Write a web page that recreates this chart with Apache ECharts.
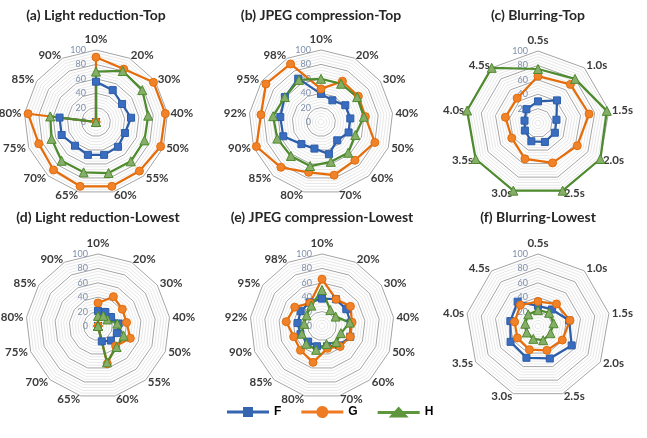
<!DOCTYPE html>
<html><head><meta charset="utf-8">
<script src="https://cdn.jsdelivr.net/npm/echarts@6/dist/echarts.min.js"></script>
<style>html,body{margin:0;padding:0;background:#fff}#c{width:647px;height:438px}</style>
</head><body><div id="c"></div><script>
// ---- categories (clockwise from top) ----
const LR_AXES   = ['10%','20%','30%','40%','50%','55%','60%','65%','70%','75%','80%','85%','90%'];
const JPEG_AXES = ['10%','20%','30%','40%','50%','60%','70%','80%','85%','90%','92%','95%','98%'];
const BLUR_AXES = ['0.5s','1.0s','1.5s','2.0s','2.5s','3.0s','3.5s','4.0s','4.5s'];
const SERIES_NAMES = ['F','G','H'];
const TITLES = ['(a) Light reduction-Top','(b) JPEG compression-Top','(c) Blurring-Top',
                '(d) Light reduction-Lowest','(e) JPEG compression-Lowest','(f) Blurring-Lowest'];
const RADIUS_TICKS = [0,20,40,60,80,100];

// ---- values ----
const A_F = [56,50,44,49,43,46,47,47,44,51,51,0,0];
const A_G = [90,83,97,97,96,91,92,92,89,85,95,0,0];
const A_H = [70,80,78,73,72,73,73,72,72,66,64,0,0];

const B_F = [39,34,41,41,41,34,46,38,41,56,57,61,68];
const B_G = [46,64,63,62,80,71,76,72,84,96,84,93,91];
const B_H = [60,60,61,60,51,57,57,63,63,65,67,61,66];

const C_F = [30,41,26,27,28,27,21,19,25];
const C_G = [65,70,72,63,59,53,42,46,45];
const C_H = [75,80,97,100,100,100,100,100,100];

const D_F = [21,22,22,29,28,27,22,0,0,0,0,0,0];
const D_G = [32,46,41,40,48,37,54,0,0,0,0,0,0];
const D_H = [14,16,16,27,38,39,52,0,0,0,0,0,0];

const E_F = [38,42,41,40,42,36,29,29,29,32,34,36,37];
const E_G = [65,42,48,42,42,38,32,52,45,42,50,46,36];
const E_H = [50,25,23,39,28,30,26,34,33,30,25,26,32];

const F_F = [28,30,44,54,48,47,44,39,44];
const F_G = [34,40,45,39,36,35,33,33,38];
const F_H = [22,24,22,20,21,19,18,18,21];

// ---- layout / style ----
const PANELS = [
  {axes: LR_AXES,   F: A_F, G: A_G, H: A_H},
  {axes: JPEG_AXES, F: B_F, G: B_G, H: B_H},
  {axes: BLUR_AXES, F: C_F, G: C_G, H: C_H},
  {axes: LR_AXES,   F: D_F, G: D_G, H: D_H},
  {axes: JPEG_AXES, F: E_F, G: E_G, H: E_H},
  {axes: BLUR_AXES, F: F_F, G: F_G, H: F_H}
];
const CENTERS = [[96,122],[321,122],[538,123],[98,326],[322,326],[538,326]];
const TITLE_TOPS = [8,8,8,210,210,210];
const RADIUS = 72;

const STYLE = {
  F: {symbol:'rect', size:7, line:'#2C5DA8', fill:'#3A6DC0', legend:'#3565B0',
      icon:'path://M0,4.5H16V1H26V4.5H42V7.5H26V11H16V7.5H0Z'},
  G: {symbol:'circle', size:8, line:'#E46C0A', fill:'#F08329', legend:'#EE7A22',
      icon:'path://M0,4.5H15.19A6,6 0 0 1 26.81,4.5H42V7.5H26.81A6,6 0 0 1 15.19,7.5H0Z'},
  H: {symbol:'triangle', size:9, line:'#4E8A2E', fill:'#86AE68', legend:'#5E963C',
      icon:'path://M0,4.5H16.9L21,0L25.1,4.5H42V7.5H27.8L31,11H11L14.2,7.5H0Z'}
};

// ECharts radar runs counter-clockwise; reorder so the reference's clockwise order is kept
function reorder(arr){ return [arr[0]].concat(arr.slice(1).reverse()); }

const radars = PANELS.map((p, k) => ({
  center: CENTERS[k], radius: RADIUS, startAngle: 90, shape: 'polygon', splitNumber: 25,
  indicator: reorder(p.axes).map((name, i) => {
    const ind = {name: name, min: 0, max: 100};
    if (i === 0) ind.axisLabel = {show: true};
    return ind;
  }),
  nameGap: 3,
  axisName: {color:'#3a3a3a', fontFamily:'Lato', fontWeight:'bold', fontSize:11.5},
  axisLine: {show:false},
  axisTick: {show:false},
  axisLabel: {show:false, color:'#7F8FA9', fontFamily:'Lato', fontSize:9, margin:10,
    formatter: v => RADIUS_TICKS.indexOf(Math.round(v)) >= 0 ? String(Math.round(v)) : ''},
  splitLine: {lineStyle: {color:['#a4a4a4','#e8e8e8','#e8e8e8','#e8e8e8','#e8e8e8'], width:1}},
  splitArea: {show:false}
}));

const series = PANELS.map((p, k) => ({
  type: 'radar', radarIndex: k, silent: true,
  data: SERIES_NAMES.map(n => ({
    name: n, value: reorder(p[n]),
    symbol: STYLE[n].symbol, symbolSize: STYLE[n].size,
    itemStyle: {color: STYLE[n].fill, borderColor: STYLE[n].line, borderWidth: 1},
    lineStyle: {color: STYLE[n].line, width: 2.25}
  }))
}));

const option = {
  backgroundColor: '#fff',
  animation: false,
  title: TITLES.map((t, k) => ({
    text: t, left: CENTERS[k][0], top: TITLE_TOPS[k], textAlign: 'center', padding: 0,
    textStyle: {fontFamily:'Lato', fontWeight:'bold', fontSize:14, color:'#262626'}
  })),
  legend: {
    left: 222, top: 401, itemWidth: 42, itemHeight: 12, itemGap: 20, selectedMode: false,
    textStyle: {fontFamily:'Liberation Sans', fontWeight:'bold', fontSize:12, color:'#000'},
    data: SERIES_NAMES.map(n => ({name: n, icon: STYLE[n].icon,
      itemStyle: {color: STYLE[n].legend, borderWidth: 0}}))
  },
  radar: radars,
  series: series
};
echarts.init(document.getElementById('c')).setOption(option);
</script></body></html>
